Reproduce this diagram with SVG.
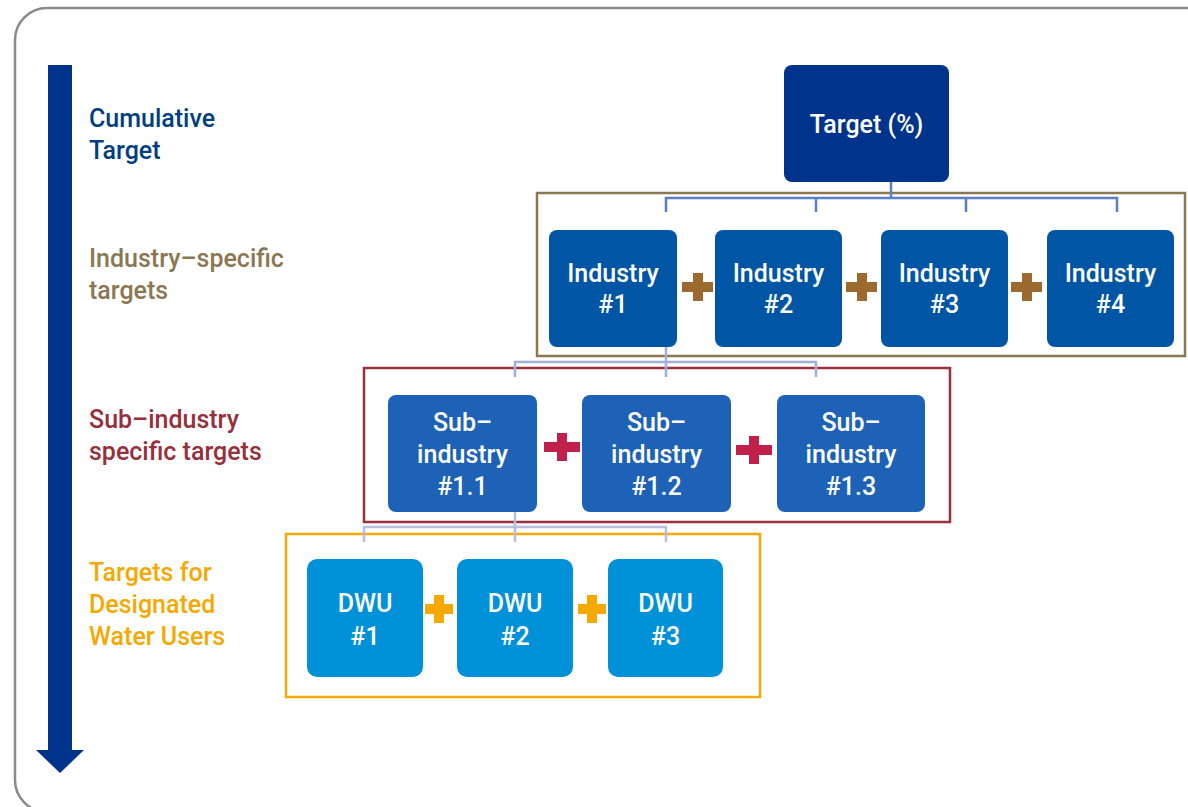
<svg xmlns="http://www.w3.org/2000/svg" width="1188" height="807" viewBox="0 0 1188 807">
<style>
.lbl{font-family:Roboto,"Liberation Sans",sans-serif;font-size:25px;font-weight:500}
.nt{font-family:Roboto,"Liberation Sans",sans-serif;font-size:25px;font-weight:500;fill:#ffffff;text-anchor:middle}
.b0{fill:#00338c}
.b1{fill:#0055a5}
.b2{fill:#1e62b8}
.b3{fill:#0091d9}
.grp{fill:none;stroke-width:2.5}
</style>
<rect x="0" y="0" width="1188" height="807" fill="#ffffff"/>
<rect x="15" y="8" width="1220" height="804" rx="32" fill="#ffffff" stroke="#8a8a8a" stroke-width="2.5"/>
<path d="M48 65 H72 V750 H84 L60 773 L36 750 H48 Z" fill="#00338c"/>
<g id="labels">
<text class="lbl" fill="#003f80" x="89" y="127">Cumulative</text>
<text class="lbl" fill="#003f80" x="89" y="159">Target</text>
<text class="lbl" fill="#8b7752" x="89" y="267">Industry–specific</text>
<text class="lbl" fill="#8b7752" x="89" y="299">targets</text>
<text class="lbl" fill="#96303a" x="89" y="428">Sub–industry</text>
<text class="lbl" fill="#96303a" x="89" y="460">specific targets</text>
<text class="lbl" fill="#f5a800" x="89" y="581">Targets for</text>
<text class="lbl" fill="#f5a800" x="89" y="613">Designated</text>
<text class="lbl" fill="#f5a800" x="89" y="645">Water Users</text>
</g>
<g id="groups">
<rect class="grp" x="537" y="193" width="648" height="163" stroke="#8b7752"/>
<rect class="grp" x="364" y="368" width="586" height="154" stroke="#9b2f3a"/>
<rect class="grp" x="286" y="534" width="474" height="163" stroke="#f5a800"/>
</g>
<g id="connectors" fill="none">
<path d="M891 182 V198 M666 212 V198 H1117 V212 M816 198 V212 M966 198 V212" stroke="#5a7ec8" stroke-width="2.5"/>
<path d="M666 347 V377 M515 377 V362 H816 V377" stroke="#9fb0dc" stroke-width="2.5"/>
<path d="M515 512 V542 M364 542 V527 H666 V542" stroke="#b5c0e0" stroke-width="2.5"/>
</g>
<g id="target">
<rect class="b0" x="784" y="65" width="165" height="117" rx="8"/>
<text class="nt" x="866.5" y="133">Target (%)</text>
</g>
<g id="industry1">
<rect class="b1" x="549" y="230" width="128" height="117" rx="8"/>
<text class="nt" x="613" y="282">Industry</text>
<text class="nt" x="613" y="313">#1</text>
</g>
<g id="industry2">
<rect class="b1" x="715" y="230" width="127" height="117" rx="8"/>
<text class="nt" x="778.5" y="282">Industry</text>
<text class="nt" x="778.5" y="313">#2</text>
</g>
<g id="industry3">
<rect class="b1" x="881" y="230" width="127" height="117" rx="8"/>
<text class="nt" x="944.5" y="282">Industry</text>
<text class="nt" x="944.5" y="313">#3</text>
</g>
<g id="industry4">
<rect class="b1" x="1047" y="230" width="127" height="117" rx="8"/>
<text class="nt" x="1110.5" y="282">Industry</text>
<text class="nt" x="1110.5" y="313">#4</text>
</g>
<g id="plus-industry" fill="#9c6a2e">
<path d="M682 282 H693 V273 H703 V282 H713 V292 H703 V301 H693 V292 H682 Z"/>
<path d="M846 282 H857 V273 H867 V282 H877 V292 H867 V301 H857 V292 H846 Z"/>
<path d="M1011 282 H1022 V273 H1032 V282 H1042 V292 H1032 V301 H1022 V292 H1011 Z"/>
</g>
<g id="sub1">
<rect class="b2" x="388" y="395" width="149" height="117" rx="8"/>
<text class="nt" x="462.5" y="431">Sub–</text>
<text class="nt" x="462.5" y="463">industry</text>
<text class="nt" x="462.5" y="495">#1.1</text>
</g>
<g id="sub2">
<rect class="b2" x="582" y="395" width="149" height="117" rx="8"/>
<text class="nt" x="656.5" y="431">Sub–</text>
<text class="nt" x="656.5" y="463">industry</text>
<text class="nt" x="656.5" y="495">#1.2</text>
</g>
<g id="sub3">
<rect class="b2" x="777" y="395" width="148" height="117" rx="8"/>
<text class="nt" x="851" y="431">Sub–</text>
<text class="nt" x="851" y="463">industry</text>
<text class="nt" x="851" y="495">#1.3</text>
</g>
<g id="plus-sub" fill="#c0204a">
<path d="M544 442 H557 V433 H567 V442 H580 V452 H567 V461 H557 V452 H544 Z"/>
<path d="M736 445 H749 V436 H759 V445 H772 V455 H759 V464 H749 V455 H736 Z"/>
</g>
<g id="dwu1">
<rect class="b3" x="307" y="559" width="116" height="118" rx="10"/>
<text class="nt" x="365" y="612">DWU</text>
<text class="nt" x="365" y="645">#1</text>
</g>
<g id="dwu2">
<rect class="b3" x="457" y="559" width="116" height="118" rx="10"/>
<text class="nt" x="515" y="612">DWU</text>
<text class="nt" x="515" y="645">#2</text>
</g>
<g id="dwu3">
<rect class="b3" x="608" y="559" width="115" height="118" rx="10"/>
<text class="nt" x="665.5" y="612">DWU</text>
<text class="nt" x="665.5" y="645">#3</text>
</g>
<g id="plus-dwu" fill="#f5a800">
<path d="M425 604 H434 V595 H444 V604 H453 V614 H444 V623 H434 V614 H425 Z"/>
<path d="M578 604 H587 V595 H597 V604 H606 V614 H597 V623 H587 V614 H578 Z"/>
</g>
</svg>
